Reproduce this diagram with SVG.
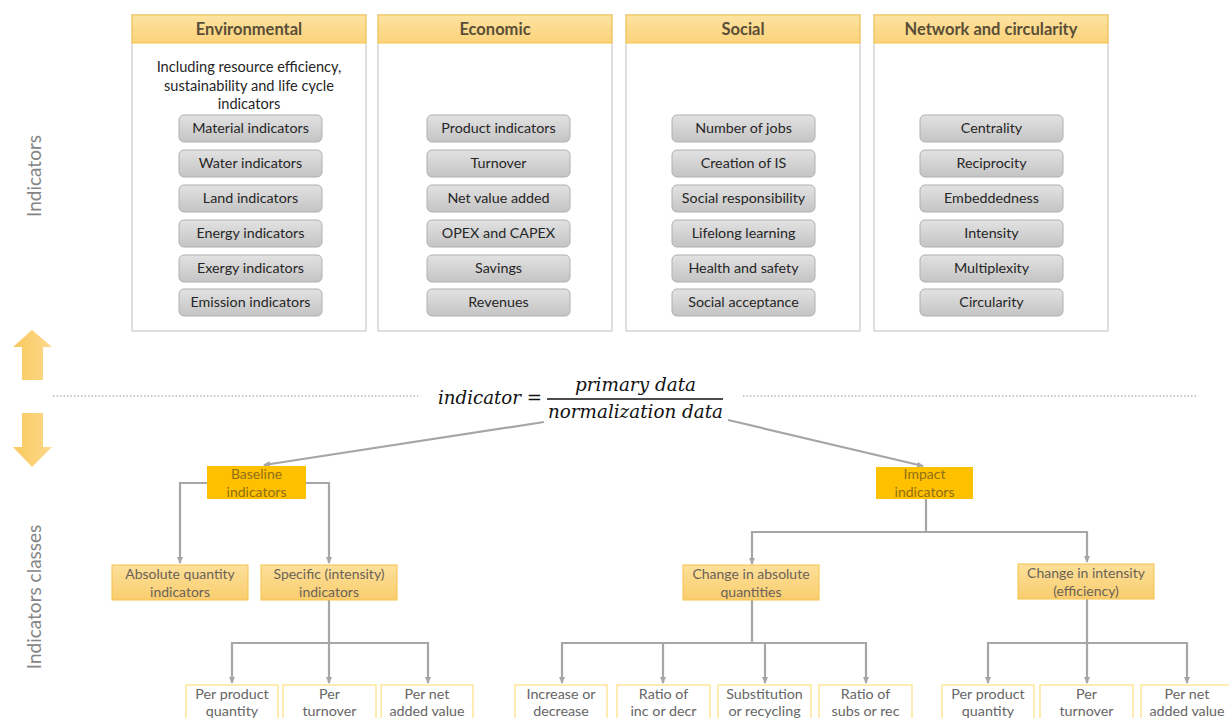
<svg xmlns="http://www.w3.org/2000/svg" width="1229" height="718" viewBox="0 0 1229 718">
<defs>
<linearGradient id="pill" x1="0" y1="0" x2="0" y2="1"><stop offset="0" stop-color="#e2e2e2"/><stop offset="1" stop-color="#c4c4c4"/></linearGradient>
<linearGradient id="hdr" x1="0" y1="0" x2="0" y2="1"><stop offset="0" stop-color="#fde3a2"/><stop offset="1" stop-color="#fbd27a"/></linearGradient>
<linearGradient id="org" x1="0" y1="0" x2="0" y2="1"><stop offset="0" stop-color="#fde09a"/><stop offset="1" stop-color="#f9cd6e"/></linearGradient>
<linearGradient id="arr" x1="0" y1="0" x2="1" y2="0"><stop offset="0" stop-color="#f9c95e"/><stop offset="1" stop-color="#fcd98c"/></linearGradient>
<marker id="ah" markerWidth="8" markerHeight="8" refX="6" refY="4" orient="auto" markerUnits="userSpaceOnUse"><path d="M0,1 L7,4 L0,7 Z" fill="#a6a6a6"/></marker>
</defs>
<style>
text{font-family:Lato,"Open Sans","Liberation Sans",sans-serif}
.panel{fill:#fff;stroke:#bfbfbf;stroke-width:1}
.hdr{fill:url(#hdr);stroke:#f6c34a;stroke-width:1}
.ht{font-size:16.5px;font-weight:bold;fill:#5a4e36;text-anchor:middle}
.pill{fill:url(#pill);stroke:#b0b0b0;stroke-width:1}
.pt{font-size:14.3px;fill:#262626;text-anchor:middle}
.body{font-size:14.6px;fill:#262626;text-anchor:middle}
.gold{fill:#ffc000}
.gt{font-size:14px;fill:#8f6f14;text-anchor:middle}
.ob{fill:url(#org);stroke:#f6c24a;stroke-width:1}
.ot{font-size:14px;fill:#6b6257;text-anchor:middle}
.wb{fill:#fff;stroke:#ffe28a;stroke-width:1.3}
.wt{font-size:14.3px;fill:#666;text-anchor:middle}
.con{fill:none;stroke:#a6a6a6;stroke-width:2.2}
.side{font-size:19px;fill:#858585;text-anchor:middle}
.dot{stroke:#b5b5b5;stroke-width:1.6;stroke-dasharray:1.5 2;fill:none}
.math{font-family:"DejaVu Serif","Liberation Serif",serif;font-style:italic;font-size:19px;fill:#111}
</style>

<g id="side-labels">
<text class="side" transform="translate(41,176) rotate(-90)">Indicators</text>
<text class="side" transform="translate(41,597) rotate(-90)">Indicators classes</text>
<polygon points="32,330 52,347 43,347 43,380 22,380 22,347 13,347" fill="url(#arr)"/>
<polygon points="22,413 43,413 43,447 52,447 32,467 13,447 22,447" fill="url(#arr)"/>
</g>

<g id="separator">
<line class="dot" x1="53" y1="396" x2="418" y2="396"/>
<line class="dot" x1="743" y1="396" x2="1198" y2="396"/>
</g>

<g id="panel-environmental">
<rect class="panel" x="132" y="15" width="234" height="316"/>
<rect class="hdr" x="132" y="15" width="234" height="28"/>
<text class="ht" x="249" y="35">Environmental</text>
<text class="body" x="249" y="72">Including resource  efficiency,</text>
<text class="body" x="249" y="91">sustainability and life  cycle</text>
<text class="body" x="249" y="109">indicators</text>
<rect class="pill" x="179" y="115" width="143" height="27" rx="5"/><text class="pt" x="250.5" y="133">Material indicators</text>
<rect class="pill" x="179" y="150" width="143" height="27" rx="5"/><text class="pt" x="250.5" y="168">Water indicators</text>
<rect class="pill" x="179" y="185" width="143" height="27" rx="5"/><text class="pt" x="250.5" y="203">Land indicators</text>
<rect class="pill" x="179" y="220" width="143" height="27" rx="5"/><text class="pt" x="250.5" y="238">Energy indicators</text>
<rect class="pill" x="179" y="255" width="143" height="27" rx="5"/><text class="pt" x="250.5" y="273">Exergy indicators</text>
<rect class="pill" x="179" y="289" width="143" height="27" rx="5"/><text class="pt" x="250.5" y="307">Emission indicators</text>
</g>

<g id="panel-economic">
<rect class="panel" x="378" y="15" width="234" height="316"/>
<rect class="hdr" x="378" y="15" width="234" height="28"/>
<text class="ht" x="495" y="35">Economic</text>
<rect class="pill" x="427" y="115" width="143" height="27" rx="5"/><text class="pt" x="498.5" y="133">Product indicators</text>
<rect class="pill" x="427" y="150" width="143" height="27" rx="5"/><text class="pt" x="498.5" y="168">Turnover</text>
<rect class="pill" x="427" y="185" width="143" height="27" rx="5"/><text class="pt" x="498.5" y="203">Net value added</text>
<rect class="pill" x="427" y="220" width="143" height="27" rx="5"/><text class="pt" x="498.5" y="238">OPEX and CAPEX</text>
<rect class="pill" x="427" y="255" width="143" height="27" rx="5"/><text class="pt" x="498.5" y="273">Savings</text>
<rect class="pill" x="427" y="289" width="143" height="27" rx="5"/><text class="pt" x="498.5" y="307">Revenues</text>
</g>

<g id="panel-social">
<rect class="panel" x="626" y="15" width="234" height="316"/>
<rect class="hdr" x="626" y="15" width="234" height="28"/>
<text class="ht" x="743" y="35">Social</text>
<rect class="pill" x="672" y="115" width="143" height="27" rx="5"/><text class="pt" x="743.5" y="133">Number of jobs</text>
<rect class="pill" x="672" y="150" width="143" height="27" rx="5"/><text class="pt" x="743.5" y="168">Creation of IS</text>
<rect class="pill" x="672" y="185" width="143" height="27" rx="5"/><text class="pt" x="743.5" y="203">Social responsibility</text>
<rect class="pill" x="672" y="220" width="143" height="27" rx="5"/><text class="pt" x="743.5" y="238">Lifelong learning</text>
<rect class="pill" x="672" y="255" width="143" height="27" rx="5"/><text class="pt" x="743.5" y="273">Health and safety</text>
<rect class="pill" x="672" y="289" width="143" height="27" rx="5"/><text class="pt" x="743.5" y="307">Social acceptance</text>
</g>

<g id="panel-network">
<rect class="panel" x="874" y="15" width="234" height="316"/>
<rect class="hdr" x="874" y="15" width="234" height="28"/>
<text class="ht" x="991" y="35">Network and circularity</text>
<rect class="pill" x="920" y="115" width="143" height="27" rx="5"/><text class="pt" x="991.5" y="133">Centrality</text>
<rect class="pill" x="920" y="150" width="143" height="27" rx="5"/><text class="pt" x="991.5" y="168">Reciprocity</text>
<rect class="pill" x="920" y="185" width="143" height="27" rx="5"/><text class="pt" x="991.5" y="203">Embeddedness</text>
<rect class="pill" x="920" y="220" width="143" height="27" rx="5"/><text class="pt" x="991.5" y="238">Intensity</text>
<rect class="pill" x="920" y="255" width="143" height="27" rx="5"/><text class="pt" x="991.5" y="273">Multiplexity</text>
<rect class="pill" x="920" y="289" width="143" height="27" rx="5"/><text class="pt" x="991.5" y="307">Circularity</text>
</g>

<g id="formula">
<text class="math" x="438" y="404" textLength="104" lengthAdjust="spacingAndGlyphs">indicator =</text>
<text class="math" x="575" y="391" textLength="121" lengthAdjust="spacingAndGlyphs">primary data</text>
<line x1="547" y1="399" x2="723" y2="399" stroke="#111" stroke-width="1.3"/>
<text class="math" x="548" y="418" textLength="175" lengthAdjust="spacingAndGlyphs">normalization data</text>
</g>

<g id="connectors">
<line class="con" x1="544" y1="422" x2="264" y2="465" marker-end="url(#ah)"/>
<line class="con" x1="728" y1="420" x2="923" y2="466" marker-end="url(#ah)"/>
<polyline class="con" points="207,483 180,483 180,563" marker-end="url(#ah)"/>
<polyline class="con" points="306,483 329,483 329,563" marker-end="url(#ah)"/>
<polyline class="con" points="329,600 329,643 232,643 232,683" marker-end="url(#ah)"/>
<line class="con" x1="329" y1="643" x2="329" y2="683" marker-end="url(#ah)"/>
<polyline class="con" points="329,643 428,643 428,683" marker-end="url(#ah)"/>
<polyline class="con" points="926,499 926,532 752,532 752,564" marker-end="url(#ah)"/>
<polyline class="con" points="926,532 1087,532 1087,562" marker-end="url(#ah)"/>
<polyline class="con" points="752,600 752,643 562,643 562,683" marker-end="url(#ah)"/>
<polyline class="con" points="752,643 663,643 663,683" marker-end="url(#ah)"/>
<polyline class="con" points="752,643 765,643 765,683" marker-end="url(#ah)"/>
<polyline class="con" points="765,643 866,643 866,683" marker-end="url(#ah)"/>
<polyline class="con" points="1087,599 1087,643 988,643 988,683" marker-end="url(#ah)"/>
<line class="con" x1="1087" y1="643" x2="1087" y2="683" marker-end="url(#ah)"/>
<polyline class="con" points="1087,643 1187,643 1187,683" marker-end="url(#ah)"/>
</g>

<g id="baseline">
<rect class="gold" x="207" y="466" width="99" height="33"/>
<text class="gt" x="256.5" y="479">Baseline</text>
<text class="gt" x="256.5" y="497">indicators</text>
</g>
<g id="impact">
<rect class="gold" x="876" y="467" width="97" height="32"/>
<text class="gt" x="924.5" y="479">Impact</text>
<text class="gt" x="924.5" y="497">indicators</text>
</g>

<g id="absolute-quantity">
<rect class="ob" x="112" y="565" width="136" height="35"/>
<text class="ot" x="180" y="579">Absolute quantity</text>
<text class="ot" x="180" y="597">indicators</text>
</g>
<g id="specific">
<rect class="ob" x="261" y="565" width="136" height="35"/>
<text class="ot" x="329" y="579">Specific (intensity)</text>
<text class="ot" x="329" y="597">indicators</text>
</g>
<g id="change-absolute">
<rect class="ob" x="683" y="565" width="136" height="35"/>
<text class="ot" x="751" y="579">Change in absolute</text>
<text class="ot" x="751" y="597">quantities</text>
</g>
<g id="change-intensity">
<rect class="ob" x="1018" y="564" width="136" height="35"/>
<text class="ot" x="1086" y="578">Change in intensity</text>
<text class="ot" x="1086" y="596">(efficiency)</text>
</g>

<g id="b-per-product">
<rect class="wb" x="186" y="685" width="92" height="40"/>
<text class="wt" x="232" y="699">Per product</text><text class="wt" x="232" y="716">quantity</text>
</g>
<g id="b-per-turnover">
<rect class="wb" x="283" y="685" width="93" height="40"/>
<text class="wt" x="329.5" y="699">Per</text><text class="wt" x="329.5" y="716">turnover</text>
</g>
<g id="b-per-net">
<rect class="wb" x="381" y="685" width="92" height="40"/>
<text class="wt" x="427" y="699">Per net</text><text class="wt" x="427" y="716">added value</text>
</g>
<g id="a-inc-dec">
<rect class="wb" x="515" y="685" width="92" height="40"/>
<text class="wt" x="561" y="699">Increase or</text><text class="wt" x="561" y="716">decrease</text>
</g>
<g id="a-ratio-inc">
<rect class="wb" x="617" y="685" width="93" height="40"/>
<text class="wt" x="663.5" y="699">Ratio of</text><text class="wt" x="663.5" y="716">inc or decr</text>
</g>
<g id="a-subst">
<rect class="wb" x="718" y="685" width="93" height="40"/>
<text class="wt" x="764.5" y="699">Substitution</text><text class="wt" x="764.5" y="716">or recycling</text>
</g>
<g id="a-ratio-subs">
<rect class="wb" x="819" y="685" width="93" height="40"/>
<text class="wt" x="865.5" y="699">Ratio of</text><text class="wt" x="865.5" y="716">subs or rec</text>
</g>
<g id="i-per-product">
<rect class="wb" x="942" y="685" width="92" height="40"/>
<text class="wt" x="988" y="699">Per product</text><text class="wt" x="988" y="716">quantity</text>
</g>
<g id="i-per-turnover">
<rect class="wb" x="1040" y="685" width="93" height="40"/>
<text class="wt" x="1086.5" y="699">Per</text><text class="wt" x="1086.5" y="716">turnover</text>
</g>
<g id="i-per-net">
<rect class="wb" x="1141" y="685" width="95" height="40"/>
<text class="wt" x="1187" y="699">Per net</text><text class="wt" x="1187" y="716">added value</text>
</g>
</svg>
